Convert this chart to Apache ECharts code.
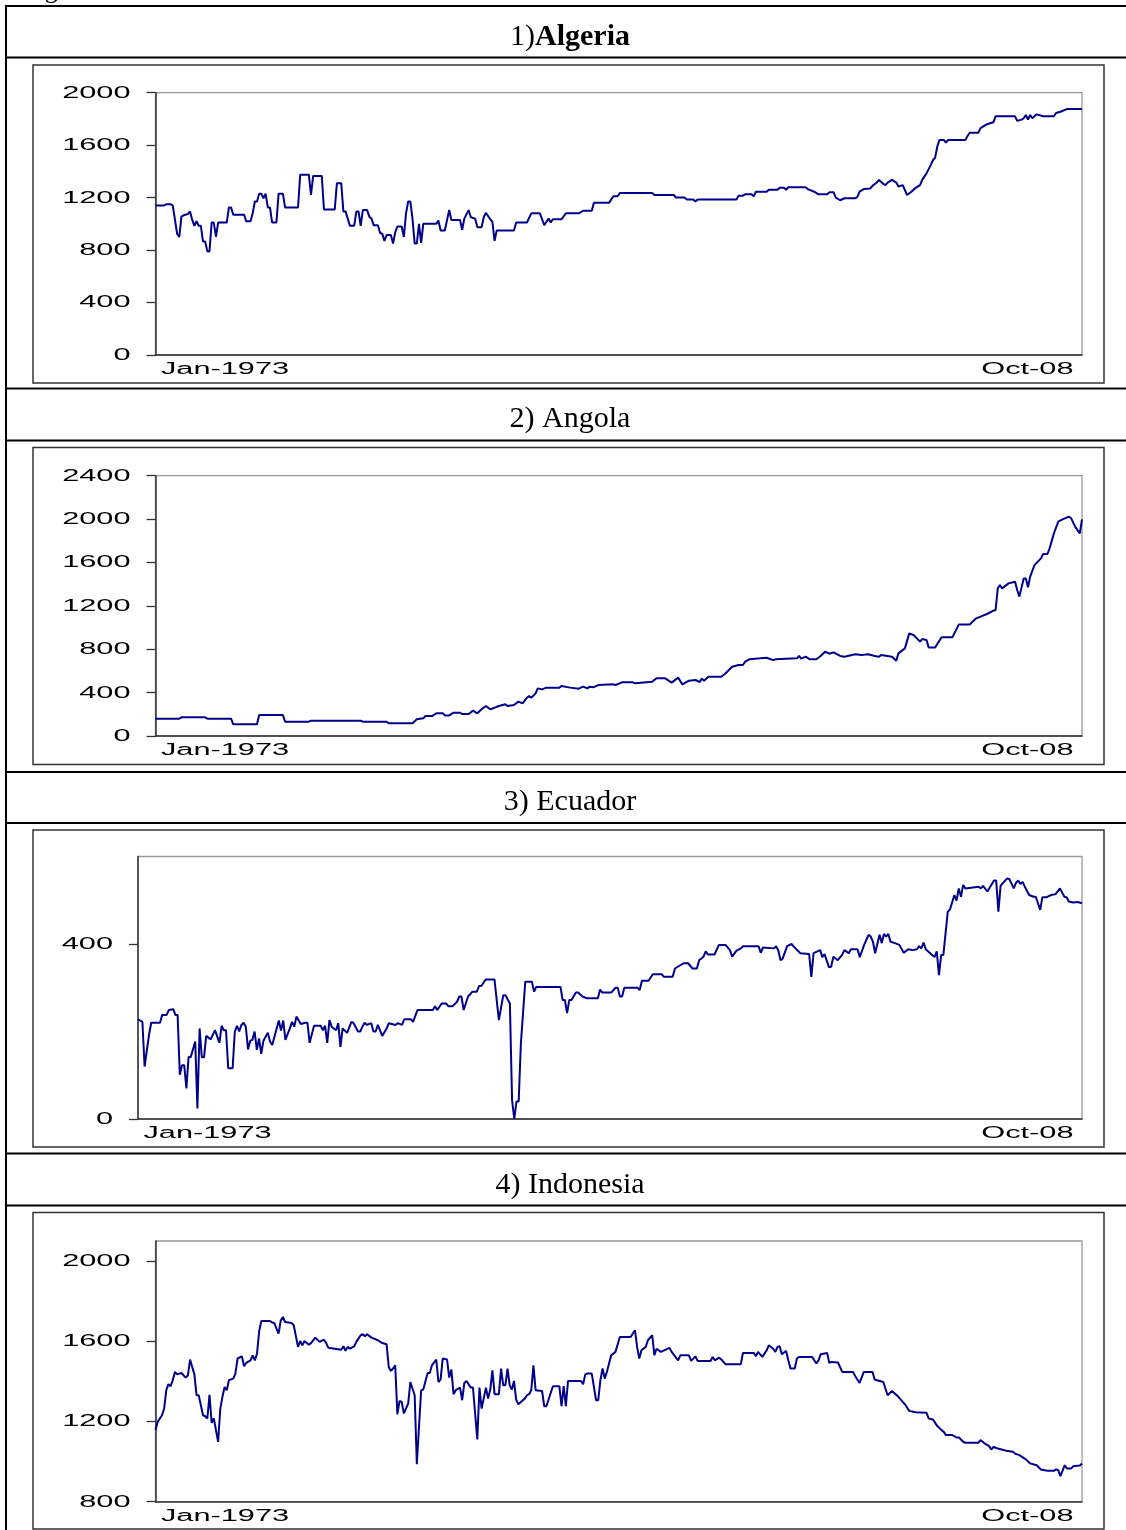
<!DOCTYPE html>
<html>
<head>
<meta charset="utf-8">
<script src="https://cdn.jsdelivr.net/npm/echarts@6.0.0/dist/echarts.min.js"></script>
<style>
  html, body { margin: 0; padding: 0; background: #fff; }
  #chart { width: 1126px; height: 1530px; }
</style>
</head>
<body>
<div id="chart"></div>
<script>
// x = months since Jan-1973 (0 = Jan-1973, 429 = Oct-2008)
const xLabels = ['Jan-1973', 'Oct-08'];
const lastMonth = 429;

const titles = ['1){b|Algeria}', '2) Angola', '3) Ecuador', '4) Indonesia'];

const algeria = [[0,1140],[4,1140],[5,1150],[7,1150],[8,1140],[10,925],[11,900],[12,1055],[13,1065],[15,1075],[16,1095],[17,1030],[18,985],[19,1020],[20,985],[21,985],[22,865],[23,865],[24,790],[25,790],[26,1010],[27,1010],[28,900],[29,1010],[33,1010],[34,1125],[35,1125],[36,1070],[41,1070],[42,1020],[44,1020],[45,1080],[46,1170],[47,1170],[48,1230],[49,1230],[50,1195],[51,1230],[52,1125],[53,1125],[54,1010],[56,1010],[57,1230],[59,1230],[60,1125],[66,1125],[67,1375],[71,1375],[72,1220],[73,1365],[77,1365],[78,1110],[83,1110],[84,1310],[86,1310],[87,1095],[88,1095],[90,985],[92,985],[93,1095],[94,1095],[95,985],[96,1105],[98,1105],[99,1055],[100,1040],[101,990],[103,990],[104,930],[105,925],[106,870],[107,915],[109,915],[110,850],[111,935],[112,980],[114,980],[115,900],[116,1080],[117,1170],[118,1170],[119,1040],[120,850],[121,850],[122,1000],[123,855],[124,1000],[130,1000],[131,1025],[132,950],[134,950],[135,1030],[136,1105],[137,1030],[141,1030],[142,955],[143,1040],[145,1105],[146,1050],[148,1040],[149,975],[151,975],[152,1050],[153,1085],[155,1035],[156,1015],[157,870],[158,950],[166,950],[167,1010],[172,1010],[174,1080],[178,1080],[180,990],[182,1040],[183,1010],[184,1035],[188,1035],[190,1080],[196,1080],[198,1100],[202,1100],[203,1160],[210,1160],[212,1210],[214,1210],[215,1235],[230,1235],[231,1220],[240,1220],[241,1200],[245,1200],[246,1185],[249,1185],[250,1170],[251,1185],[269,1185],[270,1215],[272,1215],[273,1225],[276,1225],[277,1210],[278,1245],[283,1245],[284,1260],[288,1260],[289,1275],[291,1275],[292,1260],[293,1280],[301,1280],[302,1265],[305,1245],[307,1225],[311,1225],[312,1240],[314,1240],[315,1200],[317,1180],[319,1195],[324,1195],[325,1205],[326,1245],[328,1265],[331,1270],[332,1290],[334,1315],[335,1335],[337,1305],[338,1295],[339,1315],[341,1335],[343,1315],[344,1285],[346,1295],[348,1220],[350,1245],[352,1275],[354,1295],[355,1335],[357,1385],[359,1450],[360,1485],[361,1505],[362,1590],[363,1640],[365,1640],[366,1620],[367,1640],[375,1640],[376,1670],[377,1695],[381,1695],[382,1730],[385,1760],[388,1775],[389,1820],[398,1820],[399,1785],[401,1795],[402,1805],[403,1830],[404,1795],[405,1830],[406,1805],[408,1835],[411,1820],[416,1820],[417,1845],[419,1855],[422,1875],[429,1875]];

const angola = [[0,160],[11,160],[12,172],[23,172],[24,160],[35,160],[36,108],[47,108],[48,194],[59,194],[60,132],[71,132],[72,141],[95,141],[96,132],[107,132],[108,117],[119,117],[121,154],[124,163],[125,184],[128,184],[130,209],[133,209],[134,190],[136,190],[138,215],[141,215],[142,203],[145,203],[147,234],[149,209],[151,246],[153,277],[155,246],[157,261],[159,277],[162,292],[163,277],[166,286],[168,317],[170,301],[172,353],[173,369],[174,353],[176,393],[177,439],[179,430],[181,446],[187,446],[188,461],[192,446],[196,436],[198,455],[200,439],[201,455],[203,450],[205,470],[212,476],[213,470],[216,495],[221,495],[222,486],[230,501],[232,532],[236,532],[239,492],[242,538],[244,476],[247,510],[250,516],[252,498],[253,529],[254,510],[256,547],[262,547],[264,578],[267,639],[270,655],[272,655],[273,685],[275,707],[280,716],[283,722],[286,700],[287,707],[297,716],[298,738],[299,713],[301,731],[303,707],[306,707],[308,738],[310,777],[312,759],[314,771],[317,738],[319,731],[324,753],[327,747],[330,753],[333,738],[335,731],[336,747],[341,731],[343,694],[344,762],[347,808],[349,946],[351,931],[354,870],[355,894],[357,885],[358,817],[361,817],[364,910],[369,910],[372,1029],[377,1029],[380,1085],[382,1100],[385,1125],[388,1155],[389,1162],[390,1361],[391,1392],[392,1361],[395,1407],[398,1423],[399,1346],[400,1285],[402,1453],[403,1453],[404,1371],[405,1469],[407,1576],[410,1638],[411,1678],[413,1678],[414,1730],[416,1868],[418,1976],[420,1997],[423,2022],[424,2007],[426,1924],[428,1868],[429,1997]];

const ecuador = [[0,228],[2,222],[3,120],[5,192],[6,220],[10,220],[11,238],[13,238],[14,249],[16,251],[17,238],[18,238],[19,101],[20,123],[21,123],[22,70],[23,142],[24,142],[26,177],[27,24],[28,207],[29,141],[30,141],[31,190],[33,182],[35,203],[37,174],[38,213],[39,203],[40,203],[41,116],[43,116],[44,200],[45,213],[46,200],[47,215],[48,220],[49,211],[50,159],[51,179],[52,181],[53,200],[54,158],[55,184],[56,149],[57,179],[59,197],[60,177],[61,169],[64,225],[65,202],[66,225],[67,181],[69,207],[70,222],[71,211],[72,234],[74,217],[76,220],[77,220],[78,174],[80,213],[83,213],[84,203],[85,213],[86,174],[87,226],[88,211],[89,207],[90,203],[91,219],[92,165],[93,207],[95,197],[97,222],[98,219],[100,200],[101,200],[102,211],[103,220],[104,215],[106,219],[107,200],[108,200],[109,215],[111,190],[113,207],[114,219],[117,215],[118,219],[120,215],[121,228],[124,228],[125,222],[127,249],[134,249],[135,258],[136,249],[138,264],[140,264],[141,258],[143,258],[145,268],[146,280],[147,280],[148,249],[150,280],[152,291],[154,291],[155,304],[156,304],[158,319],[162,319],[164,226],[166,283],[167,283],[169,264],[170,43],[171,0],[172,40],[173,40],[174,173],[176,314],[179,314],[180,291],[181,302],[192,302],[193,272],[194,272],[195,242],[196,272],[197,272],[199,289],[200,289],[202,280],[204,276],[209,276],[210,296],[211,289],[215,289],[217,300],[218,300],[219,280],[220,280],[221,300],[227,300],[228,295],[229,316],[232,316],[234,331],[238,331],[239,325],[243,325],[244,344],[248,356],[250,356],[252,344],[254,344],[255,363],[257,371],[258,383],[259,376],[262,376],[264,398],[267,398],[269,386],[270,371],[272,385],[274,390],[275,395],[282,395],[283,380],[284,392],[289,390],[290,395],[291,385],[292,363],[293,367],[295,395],[297,400],[298,394],[301,379],[305,377],[306,325],[307,379],[310,386],[311,370],[312,377],[314,347],[315,348],[316,371],[318,363],[320,375],[321,386],[323,379],[324,388],[327,388],[328,370],[330,398],[332,421],[333,417],[334,405],[335,379],[337,421],[338,402],[339,423],[340,417],[341,423],[342,405],[344,402],[346,398],[348,380],[350,388],[352,386],[354,388],[355,395],[356,390],[357,403],[358,388],[360,379],[362,370],[363,383],[364,329],[365,375],[366,375],[368,474],[369,479],[371,512],[372,499],[373,527],[374,508],[375,535],[376,527],[382,531],[383,527],[384,533],[386,520],[389,545],[390,545],[391,474],[392,533],[393,539],[395,550],[396,548],[398,527],[399,540],[400,545],[401,537],[402,542],[403,531],[405,512],[407,508],[408,508],[410,478],[411,507],[413,507],[415,512],[417,514],[419,527],[421,508],[422,507],[423,497],[425,495],[427,496],[429,493]];

const indonesia = [[0,1157],[1,1198],[3,1231],[4,1264],[5,1356],[6,1386],[7,1376],[8,1406],[9,1447],[10,1435],[12,1442],[14,1419],[15,1430],[16,1509],[18,1435],[19,1331],[20,1331],[22,1231],[23,1226],[24,1215],[25,1333],[26,1193],[27,1215],[29,1098],[30,1264],[31,1323],[32,1372],[33,1356],[34,1406],[36,1414],[37,1439],[38,1514],[40,1525],[41,1475],[42,1492],[44,1505],[45,1530],[46,1505],[47,1538],[48,1650],[49,1701],[53,1701],[54,1694],[55,1691],[57,1638],[58,1704],[59,1721],[60,1696],[63,1691],[64,1680],[66,1572],[67,1601],[68,1580],[69,1601],[71,1583],[72,1591],[74,1618],[76,1597],[78,1608],[79,1591],[80,1568],[83,1563],[86,1558],[87,1575],[88,1552],[89,1572],[90,1563],[92,1575],[93,1597],[95,1630],[96,1635],[97,1625],[98,1635],[100,1618],[103,1605],[105,1591],[107,1585],[108,1472],[109,1452],[110,1464],[111,1480],[112,1236],[113,1303],[114,1298],[115,1240],[117,1289],[118,1397],[120,1331],[121,987],[123,1356],[124,1359],[126,1442],[127,1442],[128,1480],[130,1509],[131,1397],[132,1409],[133,1514],[135,1509],[136,1419],[137,1459],[138,1336],[139,1356],[141,1369],[142,1306],[143,1392],[144,1402],[146,1369],[147,1369],[149,1110],[150,1369],[151,1264],[153,1369],[154,1314],[155,1359],[156,1455],[157,1336],[159,1336],[160,1464],[161,1381],[162,1381],[163,1464],[164,1381],[165,1359],[166,1402],[167,1309],[168,1286],[171,1314],[172,1331],[173,1336],[174,1356],[175,1480],[176,1356],[179,1352],[180,1276],[181,1276],[184,1376],[187,1376],[188,1276],[189,1376],[190,1276],[191,1402],[197,1402],[198,1386],[199,1435],[200,1439],[202,1439],[204,1306],[205,1306],[206,1406],[207,1464],[208,1414],[209,1447],[211,1530],[213,1547],[215,1621],[220,1621],[222,1655],[223,1572],[224,1514],[225,1555],[227,1572],[228,1605],[230,1630],[231,1530],[232,1563],[234,1547],[238,1567],[239,1547],[242,1505],[243,1530],[247,1530],[248,1502],[250,1525],[251,1502],[257,1502],[258,1522],[259,1505],[261,1518],[262,1509],[264,1485],[271,1485],[272,1542],[277,1542],[278,1525],[279,1547],[281,1522],[283,1555],[284,1580],[286,1563],[287,1547],[288,1572],[289,1575],[290,1535],[292,1552],[293,1505],[294,1464],[296,1464],[297,1514],[298,1522],[304,1522],[306,1489],[307,1505],[308,1535],[311,1542],[312,1492],[313,1497],[316,1494],[318,1447],[323,1447],[324,1426],[326,1392],[328,1447],[332,1447],[333,1409],[334,1406],[337,1397],[339,1331],[341,1352],[344,1323],[346,1298],[347,1286],[349,1253],[352,1246],[357,1243],[358,1215],[360,1210],[362,1177],[364,1157],[365,1148],[366,1132],[369,1132],[371,1120],[372,1120],[374,1099],[375,1094],[381,1094],[382,1107],[384,1090],[386,1077],[387,1060],[388,1074],[390,1065],[394,1054],[397,1049],[398,1040],[400,1032],[403,1011],[405,991],[408,982],[410,961],[413,954],[416,954],[417,961],[418,957],[419,928],[421,982],[422,966],[424,966],[425,977],[428,981],[429,991]];

const algeriaTicks = [0, 400, 800, 1200, 1600, 2000];
const angolaTicks = [0, 400, 800, 1200, 1600, 2000, 2400];
const ecuadorTicks = [0, 400];
const indonesiaTicks = [800, 1200, 1600, 2000];

// page layout (pixels)
const panels = [
  { data: algeria,   ticks: algeriaTicks,   min: 0,   max: 2000, left: 155.5, right: 1082, top: 92.7,  bottom: 355,    box: [33, 65, 1104, 383] },
  { data: angola,    ticks: angolaTicks,    min: 0,   max: 2400, left: 155.5, right: 1082, top: 475.7, bottom: 736,    box: [33, 447.5, 1104, 764.5] },
  { data: ecuador,   ticks: ecuadorTicks,   min: 0,   max: 600,  left: 138,   right: 1082, top: 856.5, bottom: 1119,   box: [33, 830, 1104, 1147] },
  { data: indonesia, ticks: indonesiaTicks, min: 800, max: 2100, left: 155.5, right: 1082, top: 1241,  bottom: 1501.7, box: [33, 1212.5, 1104, 1529] }
];
const rowLines = [6, 57.5, 388.5, 440.5, 772, 823, 1153.5, 1205.5];
const titleY = [37, 419.5, 802.5, 1185.5];

const chart = echarts.init(document.getElementById('chart'));

const frame = [];
// caption above the table, cut off by the top of the page
frame.push({ type: 'text', x: 23, y: 4, style: { text: 'Figure', fontSize: 26, fontFamily: 'Liberation Serif', fill: '#000', verticalAlign: 'bottom' } });
rowLines.forEach(function (y) {
  frame.push({ type: 'line', shape: { x1: 5, y1: y, x2: 1126, y2: y }, style: { stroke: '#000', lineWidth: 2 } });
});
frame.push({ type: 'line', shape: { x1: 6, y1: 5, x2: 6, y2: 1530 }, style: { stroke: '#000', lineWidth: 2 } });
panels.forEach(function (p, i) {
  frame.push({
    type: 'rect',
    shape: { x: p.box[0], y: p.box[1], width: p.box[2] - p.box[0], height: p.box[3] - p.box[1] },
    style: { fill: 'none', stroke: '#333', lineWidth: 1.5 }
  });
  frame.push({
    type: 'text', x: 570, y: titleY[i],
    style: {
      text: titles[i], fontSize: 30, fontFamily: 'Liberation Serif', fill: '#000',
      align: 'center', verticalAlign: 'middle',
      rich: { b: { fontSize: 30, fontFamily: 'Liberation Serif', fontWeight: 'bold' } }
    }
  });
});

const option = {
  animation: false,
  grid: panels.map(function (p) {
    return {
      left: p.left, top: p.top, width: p.right - p.left, height: p.bottom - p.top,
      show: true, borderColor: '#999', borderWidth: 1.3, backgroundColor: 'transparent'
    };
  }),
  xAxis: panels.map(function (p, i) {
    return {
      type: 'value', gridIndex: i, min: 0, max: lastMonth,
      axisLine: { show: true, onZero: false, lineStyle: { color: '#333', width: 1.5 } },
      axisTick: { show: false }, axisLabel: { show: false }, splitLine: { show: false }
    };
  }),
  yAxis: panels.map(function (p, i) {
    return {
      type: 'value', gridIndex: i, min: p.min, max: p.max, interval: 400,
      axisLine: { show: true, onZero: false, lineStyle: { color: '#333', width: 1.5 } },
      axisTick: { show: true, length: 9, customValues: p.ticks, lineStyle: { color: '#333', width: 1.3 } },
      axisLabel: { show: false }, splitLine: { show: false }
    };
  }),
  series: panels.map(function (p, i) {
    return {
      type: 'line', xAxisIndex: i, yAxisIndex: i, data: p.data,
      symbol: 'none', silent: true,
      lineStyle: { color: '#00008b', width: 2 }
    };
  }),
  graphic: { elements: frame }
};
chart.setOption(option);

// the original graph was pasted stretched sideways, so its axis text is too
function axisText(text, x, y, align) {
  return {
    type: 'text', x: x, y: y, scaleX: 1.92,
    style: { text: text, fontSize: 16, fontFamily: 'Liberation Sans', fill: '#000', align: align, verticalAlign: 'middle' }
  };
}

const labels = [];
panels.forEach(function (p, i) {
  p.ticks.forEach(function (v) {
    const pt = chart.convertToPixel({ gridIndex: i }, [0, v]);
    labels.push(axisText(String(v), pt[0] - 25, pt[1] + 0.5, 'right'));
  });
  const a = chart.convertToPixel({ gridIndex: i }, [0, p.min]);
  const b = chart.convertToPixel({ gridIndex: i }, [lastMonth, p.min]);
  labels.push(axisText(xLabels[0], a[0] + 5.5, a[1] + 14.5, 'left'));
  labels.push(axisText(xLabels[1], b[0] - 8.5, b[1] + 14.5, 'right'));
});
chart.setOption({ graphic: { elements: frame.concat(labels) } });
</script>
</body>
</html>
